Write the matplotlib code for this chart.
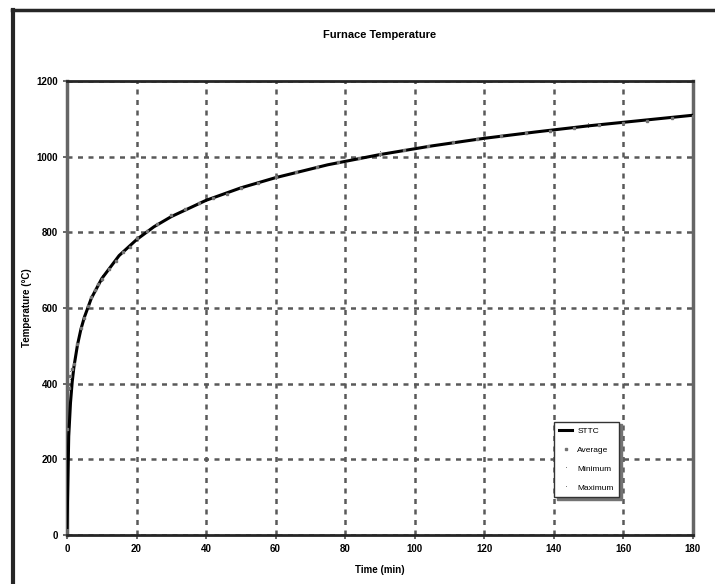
import matplotlib
matplotlib.use("Agg")
import matplotlib.pyplot as plt
from matplotlib.lines import Line2D

plt.rcParams['font.family'] = ['Liberation Sans Narrow', 'Liberation Sans', 'DejaVu Sans']

# standard time-temperature curve
sttc_t = [0, 0.5, 1, 1.5, 2, 3, 4, 5, 7, 10, 15, 20, 25, 30, 40, 50, 60, 75, 90, 105, 120, 135, 150, 165, 180]
sttc_T = [20, 261, 349, 405, 445, 502, 544, 576, 626, 678, 739, 781, 815, 842, 885, 918, 945, 979, 1006, 1029, 1049, 1066, 1082, 1096, 1110]

# furnace readings
avg_t = [0, 0.5, 1, 1.5, 2, 3, 4, 5, 6, 7, 8, 9, 10, 12, 14, 16, 18, 20, 23, 26, 30, 34, 38, 42, 46, 50,
         55, 60, 66, 72, 78, 84, 90, 97, 104, 111, 118, 125, 132, 139, 146, 153, 160, 167, 174, 180]
avg_T = [280, 390, 420, 440, 452, 505, 548, 574, 605, 630, 648, 665, 676, 703, 725, 748, 762, 786, 805, 822, 846, 862, 878, 891, 903, 917,
         930, 946, 960, 974, 987, 997, 1008, 1019, 1029, 1038, 1047, 1055, 1062, 1069, 1076, 1083, 1090, 1095, 1102, 1109]
min_t = [0, 0.5, 1, 2, 5, 10, 20, 40, 60, 90, 120, 150, 180]
min_T = [280, 380, 410, 440, 568, 670, 775, 880, 940, 1000, 1043, 1076, 1104]
max_t = [0, 0.5, 1, 2, 5, 10, 20, 40, 60, 90, 120, 150, 180]
max_T = [290, 400, 430, 460, 582, 684, 788, 890, 950, 1012, 1055, 1088, 1114]

xticks = [0, 20, 40, 60, 80, 100, 120, 140, 160, 180]
yticks = [0, 200, 400, 600, 800, 1000, 1200]

fig = plt.figure(figsize=(7.15, 5.84), dpi=100)
ax = fig.add_axes([0.0937, 0.0839, 0.875, 0.777])

ax.plot(sttc_t, sttc_T, color='black', lw=2.2, label='STTC', zorder=3)
ax.plot(avg_t, avg_T, ls='none', marker='s', ms=2, color='0.45', label='Average', zorder=4)
ax.plot(min_t, min_T, ls='none', marker=',', color='0.5', label='Minimum', zorder=2)
ax.plot(max_t, max_T, ls='none', marker=',', color='0.5', label='Maximum', zorder=2)

ax.set_xlim(0, 180)
ax.set_ylim(0, 1200)
ax.set_xticks(xticks)
ax.set_yticks(yticks)
ax.tick_params(labelsize=7, length=3, width=1.2, color='0.3')
for lab in ax.get_xticklabels() + ax.get_yticklabels():
    lab.set_fontweight('bold')

ax.grid(True, color='0.35', lw=1.8, ls=(0, (2, 2.2)))
ax.set_axisbelow(True)

for side in ['top', 'bottom']:
    ax.spines[side].set_linewidth(2)
    ax.spines[side].set_color('0.15')
for side in ['left', 'right']:
    ax.spines[side].set_linewidth(2.5)
    ax.spines[side].set_color('0.4')

ax.set_title('Furnace Temperature', fontsize=8, fontweight='bold', pad=31)
ax.set_xlabel('Time (min)', fontsize=7, fontweight='bold', labelpad=8)
ax.set_ylabel('Temperature (°C)', fontsize=7, fontweight='bold', labelpad=3)

leg = ax.legend(loc='lower left', bbox_to_anchor=(0.772, 0.075), fontsize=6, frameon=True,
                fancybox=False, edgecolor='0.2', handlelength=1.6, handletextpad=0.6,
                borderpad=0.6, labelspacing=1.35,
                shadow={'color': '0.45', 'alpha': 1})
leg.get_frame().set_linewidth(1.0)

# page frame (top and left edges)
fig.add_artist(Line2D([12 / 715, 1], [1 - 10 / 584, 1 - 10 / 584], color='0.15', lw=2.5))
fig.add_artist(Line2D([13 / 715, 13 / 715], [0, 1 - 10 / 584], color='0.15', lw=3))

fig.savefig('out.png', dpi=100)
